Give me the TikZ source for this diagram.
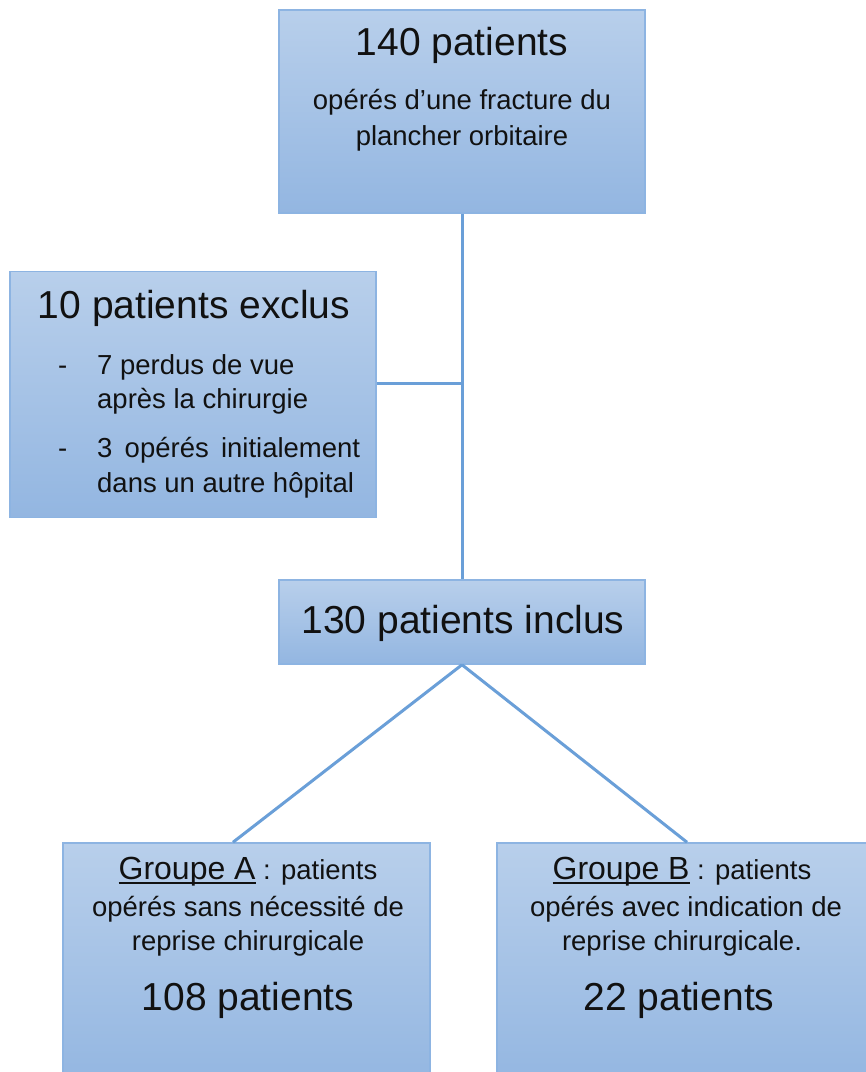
\documentclass[tikz,border=0pt]{standalone}
\usepackage{fontspec}
\setmainfont{Liberation Sans}
\definecolor{boxtop}{HTML}{B8CFEB}
\definecolor{boxbot}{HTML}{93B6E1}
\definecolor{boxline}{HTML}{8DB4E2}
\definecolor{connline}{HTML}{6A9FD8}
\definecolor{txt}{HTML}{111111}
\newcommand\myul[1]{\setbox0\hbox{#1}\rlap{\raisebox{-4.5pt}{\rule{\wd0}{1.8pt}}}\box0}
\tikzset{
  box/.style={rectangle, draw=boxline, line width=1.5pt, top color=boxtop, bottom color=boxbot, inner sep=0pt},
  conn/.style={draw=connline, line width=3pt},
  big/.style={anchor=base, text=txt, font=\fontsize{39}{44}\selectfont, inner sep=0pt},
  small/.style={anchor=base, text=txt, font=\fontsize{27.5}{32}\selectfont, inner sep=0pt},
  smallw/.style={small, anchor=base west},
}
\begin{document}
\begin{tikzpicture}[x=1pt, y=-1pt]
\useasboundingbox (0,0) rectangle (866,1072);
\clip (0,0) rectangle (866,1072);
\fill[white] (0,0) rectangle (866,1072);
% boxes
\node[box, minimum width=366pt, minimum height=203pt] (top) at (462,111.5) {};
\node[box, minimum width=366pt, minimum height=246pt] (excl) at (193,394.5) {};
\node[box, minimum width=366pt, minimum height=84pt] (incl) at (462,622) {};
\node[box, minimum width=367pt, minimum height=244pt] (grpA) at (246.5,965) {};
\node[box, minimum width=371pt, minimum height=244pt] (grpB) at (682.5,965) {};
% connectors
\coordinate (j) at (462,383);
\draw[conn] (top.south) -- (incl.north);
\draw[conn] (excl.east |- j) -- (j);
\draw[conn] (incl.south) -- ([xshift=-13.5pt]grpA.north);
\draw[conn] (incl.south) -- ([xshift=4.5pt]grpB.north);
% top texts
\node[big] (t1) at (462,55) {140 patients};
\node[small] (t2) at (462,109) {opérés d’une fracture du};
\node[small] (t3) at (462,145) {plancher orbitaire};
% excluded texts
\node[big] (e1) at (194,318) {10 patients exclus};
\node[smallw] (d1) at (58,374) {-};
\node[smallw] (e2) at (97,374) {7 perdus de vue};
\node[smallw] (e3) at (97,408) {après la chirurgie};
\node[smallw] (d2) at (58,457) {-};
\node[smallw] (e4) at (97,457) {\makebox[263pt][s]{3 opérés initialement}};
\node[smallw] (e5) at (97,492) {dans un autre hôpital};
% included
\node[big] (i1) at (463,633) {130 patients inclus};
% group A
\node[small] (a1) at (248,879) {\fontsize{32}{36}\selectfont\myul{Groupe A}\fontsize{27.5}{32}\selectfont{} : patients};
\node[small] (a2) at (248,916) {opérés sans nécessité de};
\node[small] (a3) at (248,950) {reprise chirurgicale};
\node[big] (a4) at (248,1010) {108 patients};
% group B
\node[small] (b1) at (682,879) {\fontsize{32}{36}\selectfont\myul{Groupe B}\fontsize{27.5}{32}\selectfont{} : patients};
\node[small] (b2) at (686,916) {opérés avec indication de};
\node[small] (b3) at (682,950) {reprise chirurgicale.};
\node[big] (b4) at (679,1010) {22 patients};
\end{tikzpicture}
\end{document}
